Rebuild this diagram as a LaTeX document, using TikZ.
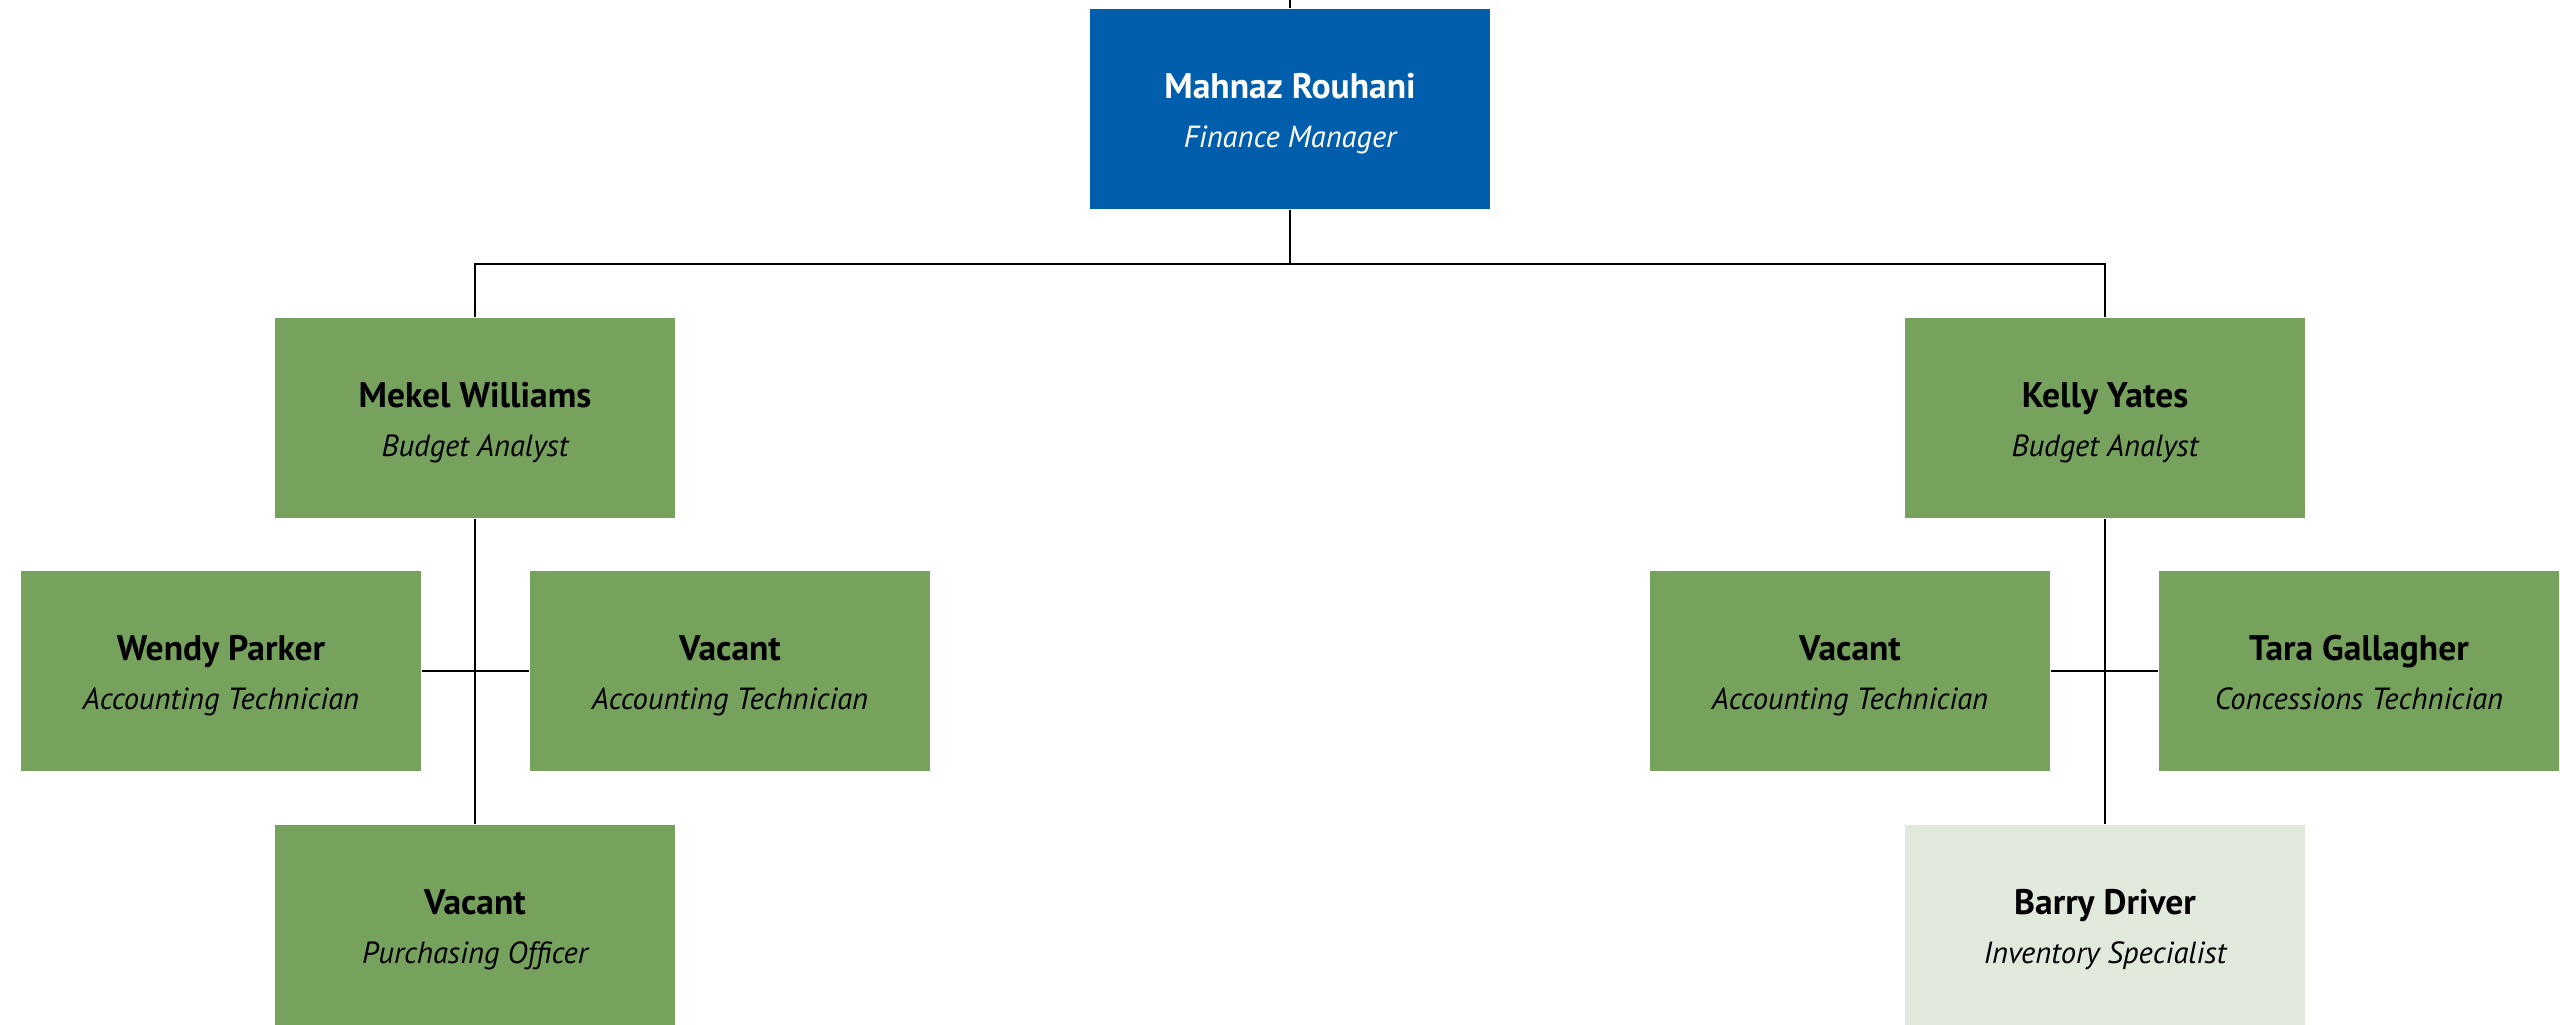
\documentclass[tikz,border=0pt]{standalone}
\usepackage{fontspec}
\setmainfont{PT Sans}
\definecolor{mgrblue}{RGB}{0,94,172}
\definecolor{staffgreen}{RGB}{118,162,94}
\definecolor{palegreen}{RGB}{224,233,220}
\newcommand{\person}[2]{{\fontsize{10.1}{15.5}\selectfont\bfseries\rule{0pt}{11.1pt}#1}\\[2pt]{\fontsize{8.7}{15.5}\selectfont\itshape\rule[-3pt]{0pt}{3pt}#2}}
\begin{document}
\begin{tikzpicture}[
    post/.style={minimum width=4cm, minimum height=2cm, inner sep=0pt, align=center, fill=staffgreen},
    head/.style={post, fill=mgrblue, text=white},
    pale/.style={post, fill=palegreen},
    link/.style={line width=0.6pt}]
        \useasboundingbox (0,0) rectangle (25.6,10.24);
        \node[head] (r1c4) at (12.90,9.15) {\person{Mahnaz Rouhani}{Finance Manager}};
        \node[post] (r2c2) at (4.75,6.06) {\person{Mekel Williams}{Budget Analyst}};
        \node[post] (r2c6) at (21.05,6.06) {\person{Kelly Yates}{Budget Analyst}};
        \node[post] (r3c1) at (2.21,3.53) {\person{Wendy Parker}{Accounting Technician}};
        \node[post] (r3c3) at (7.30,3.53) {\person{Vacant}{Accounting Technician}};
        \node[post] (r3c5) at (18.50,3.53) {\person{Vacant}{Accounting Technician}};
        \node[post] (r3c7) at (23.59,3.53) {\person{Tara Gallagher}{Concessions Technician}};
        \node[post] (r4c2) at (4.75,0.99) {\person{Vacant}{Purchasing Officer}};
        \node[pale] (r4c6) at (21.05,0.99) {\person{Barry Driver}{Inventory Specialist}};
        \coordinate (up) at (12.90,10.24);
        \coordinate (bus) at (12.90,7.60);
        \draw[link] (r1c4) -- (up)
              (r1c4) -- (bus)
              (r2c2) |- (bus) -| (r2c6)
              (r2c2) -- (r4c2)
              (r2c6) -- (r4c6)
              (r3c1) -- (r3c3)
              (r3c5) -- (r3c7);
      \end{tikzpicture}
\end{document}
